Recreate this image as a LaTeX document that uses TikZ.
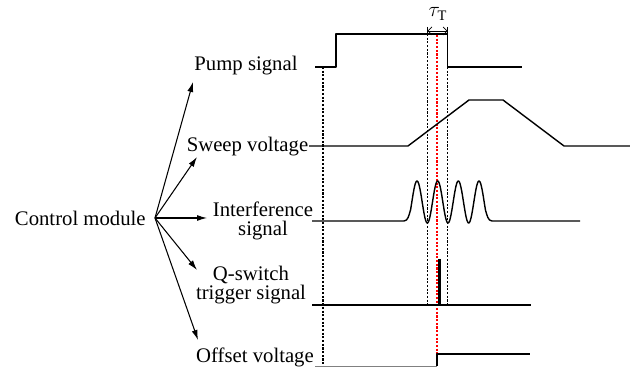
\documentclass[tikz,border=0pt]{standalone}
\usepackage{fontspec}
\setmainfont{Liberation Serif}
\usetikzlibrary{arrows.meta}

\begin{document}
\begin{tikzpicture}[x=0.02cm, y=-0.02cm, >={Latex[length=2mm, width=1.2mm]},
  wave/.style={line width=0.8pt, line join=round},
  guide/.style={line width=0.7pt, dash pattern=on 1.2pt off 0.9pt},
  label/.style={font=\fontsize{11.8}{10.5}\selectfont, inner sep=0pt, align=center}]
  \useasboundingbox (0,0) rectangle (630,367);
  % control module fanning out to the five signals
  \node[label, anchor=east] (ctrl) at (146,218) {Control module};
  \coordinate (hub) at (155,218);
  \node[label] (pump) at (246,65.5) {Pump signal};
  \node[label] (sweep) at (247.5,146.5) {Sweep voltage};
  \node[label] (interf) at (263,221) {Interference\\signal};
  \node[label] (qsw) at (251,285) {Q-switch\\trigger signal};
  \node[label] (offset) at (255,357) {Offset voltage};
  \coordinate (pumpin) at (193,82);
  \coordinate (sweepin) at (197,157);
  \coordinate (interfin) at (207,218);
  \coordinate (qswin) at (197,270);
  \coordinate (offsetin) at (198,340);
  \foreach \t in {pumpin, sweepin, interfin, qswin, offsetin}
    \draw[->, line width=0.6pt] (hub) -- (\t);
  % timing guides
  \draw[guide] (323,67) -- (323,367);
  \draw[guide] (427.5,34) -- (427.5,305);
  \draw[guide] (447.7,67) -- (447.7,305);
  \draw[guide, red] (437,35) -- (437,367);
  % signals
  \draw[wave] (315,67) -- (336,67) -- (336,34) -- (447.7,34) -- (447.7,67) -- (522,67);
  \draw[wave] (309,146) -- (408,146) -- (469,100) -- (503,100) -- (564,146) -- (630,146);
  \draw[wave] (312,221) -- (404,221) .. controls (408,221) and (409,215) .. (410.5,210)
    -- plot[domain=410.5:485.5, samples=150] (\x, {202-21*cos((\x-417)/20.67*360)})
    .. controls (487,215) and (488,221) .. (492,221) -- (580,221);
  \draw[wave] (312,305) -- (531,305);
  \fill (437.5,259) rectangle (441,305);
  \draw[gray, line width=0.5pt] (315,366) -- (437,366);
  \draw[wave] (437,366) -- (437,354) -- (530,354);
  % pulse width
  \draw[line width=0.6pt] (427.5,27) -- (427.5,34) (447.7,27) -- (447.7,34);
  \draw[<->, line width=0.4pt, >={Straight Barb[length=0.8mm]}] (427.5,31) -- (447.7,31);
  \node[font=\fontsize{11.8}{12}\selectfont] (tau) at (438,14) {$\tau_{\mathrm{T}}$};
\end{tikzpicture}
\end{document}
